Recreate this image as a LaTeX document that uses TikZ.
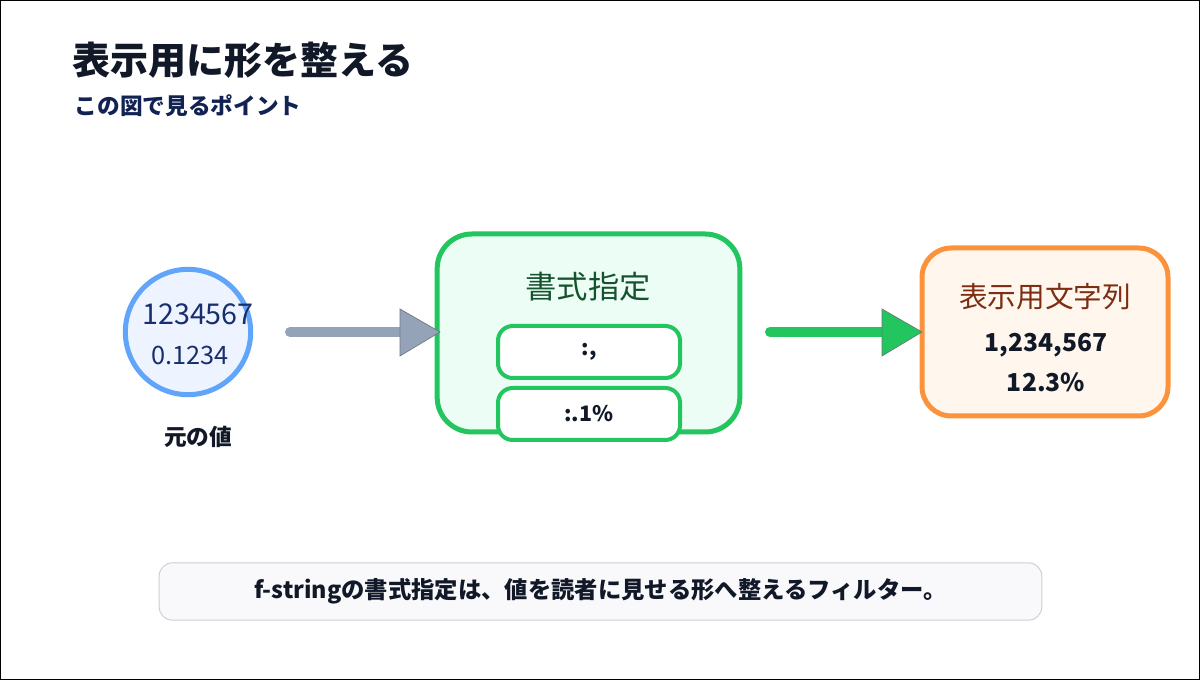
\documentclass[tikz,border=0pt]{standalone}
\usepackage{fontspec}
\setmainfont{Noto Sans CJK JP}
\usetikzlibrary{arrows.meta}
\definecolor{ink}{HTML}{111827}
\definecolor{navy}{HTML}{1E3A8A}
\definecolor{gstroke}{HTML}{22C55E}
\definecolor{gfill}{HTML}{ECFDF5}
\definecolor{gtext}{HTML}{14532D}
\definecolor{ostroke}{HTML}{FB923C}
\definecolor{ofill}{HTML}{FFF7ED}
\definecolor{otext}{HTML}{7C2D12}
\definecolor{bstroke}{HTML}{60A5FA}
\definecolor{bfill}{HTML}{EEF4FF}
\definecolor{gray}{HTML}{94A3B8}
\tikzset{
 pill/.style={draw=gstroke,line width=3pt,fill=white,rounded corners=11pt,minimum width=136.5pt,minimum height=39pt,font=\bfseries\fontsize{16}{19}\selectfont,text=ink},
}
\begin{document}
\begin{tikzpicture}[x=0.75pt,y=-0.75pt]
\useasboundingbox (0,0) rectangle (1200,680);
\draw[black,line width=1pt] (0,0) rectangle (1200,680);
\node[anchor=west,font=\bfseries\fontsize{28.5}{33}\selectfont,text=ink] (title) at (68,60) {表示用に形を整える};
\node[anchor=west,font=\bfseries\fontsize{17}{20}\selectfont,text=navy!60!black] (sub) at (70,106) {この図で見るポイント};
% circle
\node[circle,draw=bstroke,fill=bfill,line width=3.75pt,minimum size=94pt,inner sep=0pt] (src) at (188,332) {};
\node[font=\fontsize{21.5}{24}\selectfont,text=navy!80!black] (v1) at (198,314) {1234567};
\node[font=\fontsize{19}{22}\selectfont,text=navy!80!black] (v2) at (190,355) {0.1234};
\node[font=\bfseries\fontsize{17}{20}\selectfont,text=ink] (srcl) at (198,437) {元の値};
% format box
\node[draw=gstroke,fill=gfill,line width=3.75pt,rounded corners=26pt,minimum width=227pt,minimum height=148.5pt] (fmt) at (588.5,333) {};
\node[font=\fontsize{23.5}{27}\selectfont,text=gtext] (fmtl) at (588,287) {書式指定};
\node[pill] (p1) at (589,352) {:,};
\node[pill] (p2) at (589,414) {:.1\%};
% output box
\node[draw=ostroke,fill=ofill,line width=3.75pt,rounded corners=22pt,minimum width=184.5pt,minimum height=126pt] (out) at (1045,332) {};
\node[font=\fontsize{21.5}{25}\selectfont,text=otext] (outl) at (1045,297) {表示用文字列};
\node[font=\bfseries\fontsize{18.5}{21}\selectfont,text=ink] (o1) at (1046,345) {1,234,567};
\node[font=\bfseries\fontsize{18.5}{21}\selectfont,text=ink] (o2) at (1046,382) {12.3\%};
% arrows
\coordinate (a1s) at (290,332); \coordinate (a1e) at (400,332);
\draw[gray,line width=7.5pt,line cap=round] (a1s) -- (a1e);
\fill[gray] (400,309) -- (440,332) -- (400,356) -- cycle;
\draw[ink!60,line width=0.5pt] (400,309) -- (440,332) -- (400,356) -- cycle;
\coordinate (a2s) at (770,332); \coordinate (a2e) at (884,332);
\draw[gstroke,line width=7.5pt,line cap=round] (a2s) -- (a2e);
\fill[gstroke] (882,309) -- (922,332) -- (882,356) -- cycle;
\draw[ink!60,line width=0.5pt] (882,309) -- (922,332) -- (882,356) -- cycle;
% bottom note
\node[draw=gray!50,fill=gray!6,rounded corners=10pt,line width=0.75pt,minimum width=662pt,minimum height=43pt,font=\bfseries\fontsize{17.5}{20}\selectfont,text=ink] (note) at (600.5,591.5) {f-stringの書式指定は、値を読者に見せる形へ整えるフィルター。};
\end{tikzpicture}
\end{document}
